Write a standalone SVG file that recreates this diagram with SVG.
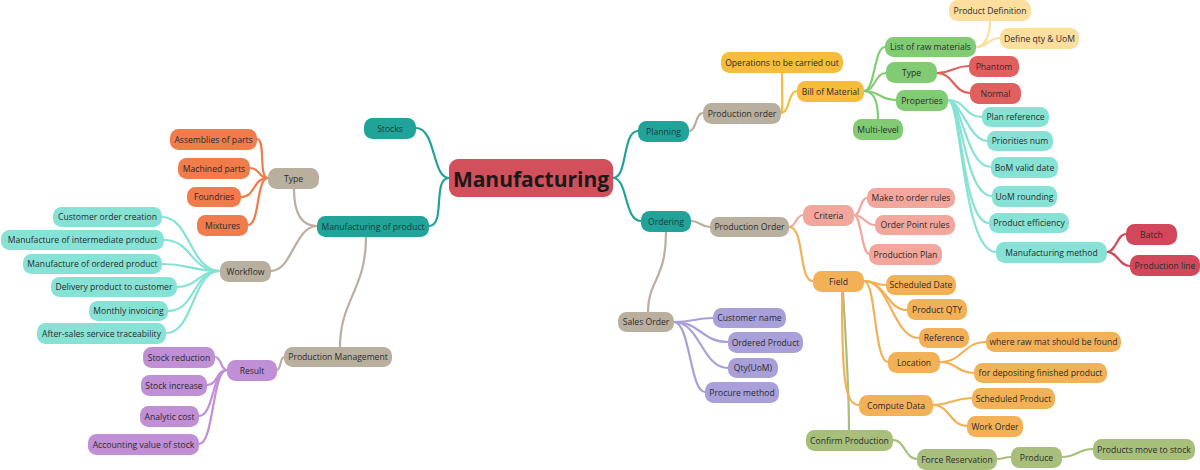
<svg xmlns="http://www.w3.org/2000/svg" width="1200" height="470" viewBox="0 0 1200 470">
<style>
text{font-family:"Open Sans","Noto Sans","Liberation Sans",sans-serif;font-size:8.6px;fill:#2b2b2b;text-anchor:middle;dominant-baseline:central}
rect{rx:8.5;ry:8.5}
.teal rect{fill:#22a39a}.teal text{fill:#163b38}
.beige rect{fill:#b9af9f}
.orange rect{fill:#f07b4b}
.cyan rect{fill:#86e2d5}
.purple rect{fill:#c08fd6}
.yellow rect{fill:#f6bd3d}
.green rect{fill:#81cc73}
.lyellow rect{fill:#fcdf9f}
.red rect{fill:#e0605f}
.dred rect{fill:#d2485a}
.salmon rect{fill:#f3a69b}
.forange rect{fill:#f3b157}
.lav rect{fill:#a9a0da}
.olive rect{fill:#a8bf7c}
#connectors path{fill:none;stroke-width:2.2;stroke-linecap:round}
.c-teal{stroke:#22a39a}.c-beige{stroke:#b9af9f}.c-orange{stroke:#f07b4b}.c-cyan{stroke:#86e2d5}
.c-purple{stroke:#c08fd6}.c-yellow{stroke:#f6bd3d}.c-green{stroke:#81cc73}.c-lyellow{stroke:#fcdf9f}
.c-red{stroke:#e0605f}.c-dred{stroke:#d2485a}.c-salmon{stroke:#f3a69b}.c-forange{stroke:#f3b157}
.c-lav{stroke:#a9a0da}.c-olive{stroke:#a8bf7c}
</style>
<rect x="0" y="0" width="1200" height="470" fill="#ffffff" rx="0" ry="0" style="rx:0;ry:0"/>
<g id="connectors">
<path class="c-teal" d="M449 178 C432 178 436 128 416 128"/>
<path class="c-teal" d="M449 178 C432 178 446 226 429 226"/>
<path class="c-teal" d="M613 178 C628 178 622 131 638 131"/>
<path class="c-teal" d="M613 178 C628 178 624 221 641 221"/>
<path class="c-beige" d="M317 226 C300 226 294 210 294 189"/>
<path class="c-beige" d="M317 226 C295 226 292 271 271 271"/>
<path class="c-beige" d="M366 237 C366 290 340 300 340 347"/>
<path class="c-orange" d="M268 178 C258 178 266 139 257 139"/>
<path class="c-orange" d="M268 178 C258 178 260 168 250 168"/>
<path class="c-orange" d="M268 178 C252 178 256 197 241 197"/>
<path class="c-orange" d="M268 178 C256 178 260 225 248 225"/>
<path class="c-cyan" d="M220 271 C190 271 190 217 162 217"/>
<path class="c-cyan" d="M220 271 C190 271 192 240 164 240"/>
<path class="c-cyan" d="M220 271 C190 271 190 264 162 264"/>
<path class="c-cyan" d="M220 271 C198 271 198 287 177 287"/>
<path class="c-cyan" d="M220 271 C192 271 196 311 168 311"/>
<path class="c-cyan" d="M220 271 C192 271 194 333 166 333"/>
<path class="c-beige" d="M284 357 C280 357 281 370 277 370"/>
<path class="c-purple" d="M227 370 C220 370 222 357 215 357"/>
<path class="c-purple" d="M227 370 C216 370 218 385 207 385"/>
<path class="c-purple" d="M227 370 C212 370 214 416 199 416"/>
<path class="c-purple" d="M227 370 C212 370 214 444 199 444"/>
<path class="c-beige" d="M689 131 C697 131 695 113 703 113"/>
<path class="c-yellow" d="M781 113 C783 113 782 100 782 73"/>
<path class="c-yellow" d="M781 113 C790 113 788 91 797 91"/>
<path class="c-green" d="M864 91 C875 91 874 47 885 47"/>
<path class="c-green" d="M864 91 C875 91 875 73 886 73"/>
<path class="c-green" d="M864 91 C880 91 880 100 896 100"/>
<path class="c-green" d="M864 91 C876 91 878 105 878 119"/>
<path class="c-lyellow" d="M976 47 C985 47 990 35 990 21"/>
<path class="c-lyellow" d="M976 47 C988 47 988 38 1000 38"/>
<path class="c-red" d="M937 73 C953 73 953 66 969 66"/>
<path class="c-red" d="M937 73 C953 73 954 93 970 93"/>
<path class="c-cyan" d="M948 100 C966 100 964 117 982 117"/>
<path class="c-cyan" d="M948 100 C960 100 970 141 987 141"/>
<path class="c-cyan" d="M948 100 C962 100 966 167 991 167"/>
<path class="c-cyan" d="M948 100 C962 100 964 196 992 196"/>
<path class="c-cyan" d="M948 100 C962 100 962 223 989 223"/>
<path class="c-cyan" d="M948 100 C962 100 962 252 996 252"/>
<path class="c-dred" d="M1107 252 C1116 252 1117 234 1126 234"/>
<path class="c-dred" d="M1107 252 C1118 252 1119 266 1130 266"/>
<path class="c-beige" d="M691 221 C700 221 701 227 710 227"/>
<path class="c-beige" d="M666 232 C666 280 648 280 648 312"/>
<path class="c-salmon" d="M789 227 C796 227 796 215 803 215"/>
<path class="c-olive" d="M843 292 C846 340 849 390 849 430"/>
<path class="c-forange" d="M789 227 C805 227 798 281 813 281"/>
<path class="c-salmon" d="M854 215 C861 215 860 198 867 198"/>
<path class="c-salmon" d="M854 215 C864 215 865 225 875 225"/>
<path class="c-salmon" d="M854 215 C861 215 862 254 869 254"/>
<path class="c-forange" d="M864 281 C875 281 875 285 886 285"/>
<path class="c-forange" d="M864 281 C885 281 887 310 907 310"/>
<path class="c-forange" d="M864 281 C890 281 893 338 919 338"/>
<path class="c-forange" d="M864 281 C876 281 874 362 888 362"/>
<path class="c-forange" d="M842 292 C842 380 845 405 859 405"/>
<path class="c-forange" d="M940 362 C963 362 963 342 986 342"/>
<path class="c-forange" d="M940 362 C957 362 957 373 974 373"/>
<path class="c-forange" d="M933 405 C952 405 952 398 972 398"/>
<path class="c-forange" d="M933 405 C950 405 950 426 967 426"/>
<path class="c-olive" d="M893 440 C905 440 905 459 917 459"/>
<path class="c-olive" d="M997 459 C1004 459 1004 457 1011 457"/>
<path class="c-olive" d="M1062 457 C1077 457 1078 449 1093 449"/>
<path class="c-lav" d="M674 322 C694 322 694 318 713 318"/>
<path class="c-lav" d="M674 322 C700 322 702 342 728 342"/>
<path class="c-lav" d="M674 322 C700 322 702 368 728 368"/>
<path class="c-lav" d="M674 322 C690 322 690 392 705 392"/>
</g>
<g id="manufacturing"><rect x="449" y="159" width="164" height="38" fill="#d1505c" style="rx:9;ry:9"/><text x="531" y="179" style="font-size:21px;font-weight:700;fill:#1a1a1a">Manufacturing</text></g>
<g id="stocks" class="teal"><rect x="364" y="118" width="52" height="21"/><text x="390" y="128.5">Stocks</text></g>
<g id="mfg-product" class="teal"><rect x="317" y="216" width="112" height="21"/><text x="373" y="226.5">Manufacturing of product</text></g>
<g id="type-left" class="beige"><rect x="268" y="168" width="51" height="21"/><text x="293.5" y="178.5">Type</text></g>
<g id="assemblies" class="orange"><rect x="170" y="129" width="87" height="21"/><text x="213.5" y="139.5">Assemblies of parts</text></g>
<g id="machined" class="orange"><rect x="178" y="158" width="72" height="21"/><text x="214" y="168.5">Machined parts</text></g>
<g id="foundries" class="orange"><rect x="187" y="187" width="54" height="20"/><text x="214" y="197">Foundries</text></g>
<g id="mixtures" class="orange"><rect x="197" y="215" width="51" height="21"/><text x="222.5" y="225.5">Mixtures</text></g>
<g id="workflow" class="beige"><rect x="220" y="261" width="51" height="21"/><text x="245.5" y="271.5">Workflow</text></g>
<g id="coc" class="cyan"><rect x="53" y="207" width="109" height="20"/><text x="107.5" y="217">Customer order creation</text></g>
<g id="mip" class="cyan"><rect x="1" y="230" width="163" height="20"/><text x="82.5" y="240">Manufacture of intermediate product</text></g>
<g id="mop" class="cyan"><rect x="23" y="254" width="139" height="20"/><text x="92.5" y="264">Manufacture of ordered product</text></g>
<g id="dpc" class="cyan"><rect x="51" y="277" width="126" height="20"/><text x="114" y="287">Delivery product to customer</text></g>
<g id="invoicing" class="cyan"><rect x="89" y="301" width="79" height="20"/><text x="128.5" y="311">Monthly invoicing</text></g>
<g id="aftersales" class="cyan"><rect x="37" y="323" width="129" height="21"/><text x="101.5" y="333.5">After-sales service traceability</text></g>
<g id="prod-mgmt" class="beige"><rect x="284" y="347" width="108" height="20"/><text x="338" y="357">Production Management</text></g>
<g id="result" class="purple"><rect x="227" y="360" width="50" height="21"/><text x="252" y="370.5">Result</text></g>
<g id="stock-red" class="purple"><rect x="143" y="347" width="72" height="21"/><text x="179" y="357.5">Stock reduction</text></g>
<g id="stock-inc" class="purple"><rect x="141" y="375" width="66" height="21"/><text x="174" y="385.5">Stock increase</text></g>
<g id="analytic" class="purple"><rect x="140" y="406" width="59" height="21"/><text x="169.5" y="416.5">Analytic cost</text></g>
<g id="accounting" class="purple"><rect x="88" y="434" width="111" height="21"/><text x="143.5" y="444.5">Accounting value of stock</text></g>
<g id="planning" class="teal"><rect x="638" y="121" width="51" height="21"/><text x="663.5" y="131.5">Planning</text></g>
<g id="prod-order-plan" class="beige"><rect x="703" y="103" width="78" height="21"/><text x="742" y="113.5">Production order</text></g>
<g id="operations" class="yellow"><rect x="721" y="52" width="122" height="21"/><text x="782" y="62.5">Operations to be carried out</text></g>
<g id="bom" class="yellow"><rect x="797" y="81" width="67" height="21"/><text x="830.5" y="91.5">Bill of Material</text></g>
<g id="raw-materials" class="green"><rect x="885" y="37" width="91" height="20"/><text x="930.5" y="47">List of raw materials</text></g>
<g id="type-right" class="green"><rect x="886" y="62" width="51" height="21"/><text x="911.5" y="72.5">Type</text></g>
<g id="properties" class="green"><rect x="896" y="90" width="52" height="21"/><text x="922" y="100.5">Properties</text></g>
<g id="multilevel" class="green"><rect x="853" y="119" width="50" height="21"/><text x="878" y="129.5">Multi-level</text></g>
<g id="prod-def" class="lyellow"><rect x="949" y="0" width="82" height="21"/><text x="990" y="10.5">Product Definition</text></g>
<g id="define-qty" class="lyellow"><rect x="1000" y="28" width="79" height="21"/><text x="1039.5" y="38.5">Define qty &amp; UoM</text></g>
<g id="phantom" class="red"><rect x="969" y="56" width="50" height="21"/><text x="994" y="66.5">Phantom</text></g>
<g id="normal" class="red"><rect x="970" y="83" width="51" height="21"/><text x="995.5" y="93.5">Normal</text></g>
<g id="plan-ref" class="cyan"><rect x="982" y="107" width="67" height="20"/><text x="1015.5" y="117">Plan reference</text></g>
<g id="priorities" class="cyan"><rect x="987" y="131" width="66" height="20"/><text x="1020" y="141">Priorities num</text></g>
<g id="bom-valid" class="cyan"><rect x="991" y="157" width="67" height="21"/><text x="1024.5" y="167.5">BoM valid date</text></g>
<g id="uom-round" class="cyan"><rect x="992" y="186" width="65" height="21"/><text x="1024.5" y="196.5">UoM rounding</text></g>
<g id="efficiency" class="cyan"><rect x="989" y="213" width="80" height="20"/><text x="1029" y="223">Product efficiency</text></g>
<g id="mfg-method" class="cyan"><rect x="996" y="242" width="111" height="21"/><text x="1051.5" y="252.5">Manufacturing method</text></g>
<g id="batch" class="dred"><rect x="1126" y="224" width="51" height="21"/><text x="1151.5" y="234.5">Batch</text></g>
<g id="prod-line" class="dred"><rect x="1130" y="255" width="70" height="21"/><text x="1165" y="265.5">Production line</text></g>
<g id="ordering" class="teal"><rect x="641" y="211" width="50" height="21"/><text x="666" y="221.5">Ordering</text></g>
<g id="prod-order" class="beige"><rect x="710" y="217" width="79" height="20"/><text x="749.5" y="227">Production Order</text></g>
<g id="criteria" class="salmon"><rect x="803" y="205" width="51" height="21"/><text x="828.5" y="215.5">Criteria</text></g>
<g id="mto" class="salmon"><rect x="867" y="188" width="88" height="20"/><text x="911" y="198">Make to order rules</text></g>
<g id="opr" class="salmon"><rect x="875" y="215" width="80" height="20"/><text x="915" y="225">Order Point rules</text></g>
<g id="prod-plan" class="salmon"><rect x="869" y="244" width="73" height="21"/><text x="905.5" y="254.5">Production Plan</text></g>
<g id="field" class="forange"><rect x="813" y="271" width="51" height="21"/><text x="838.5" y="281.5">Field</text></g>
<g id="sched-date" class="forange"><rect x="886" y="275" width="70" height="20"/><text x="921" y="285">Scheduled Date</text></g>
<g id="prod-qty" class="forange"><rect x="907" y="299" width="60" height="21"/><text x="937" y="309.5">Product QTY</text></g>
<g id="reference" class="forange"><rect x="919" y="328" width="50" height="20"/><text x="944" y="338">Reference</text></g>
<g id="location" class="forange"><rect x="888" y="352" width="52" height="21"/><text x="914" y="362.5">Location</text></g>
<g id="raw-mat" class="forange"><rect x="986" y="332" width="135" height="20"/><text x="1053.5" y="342">where raw mat should be found</text></g>
<g id="depositing" class="forange"><rect x="974" y="363" width="133" height="20"/><text x="1040.5" y="373">for depositing finished product</text></g>
<g id="compute" class="forange"><rect x="859" y="395" width="74" height="21"/><text x="896" y="405.5">Compute Data</text></g>
<g id="sched-prod" class="forange"><rect x="972" y="388" width="83" height="21"/><text x="1013.5" y="398.5">Scheduled Product</text></g>
<g id="work-order" class="forange"><rect x="967" y="416" width="56" height="21"/><text x="995" y="426.5">Work Order</text></g>
<g id="confirm" class="olive"><rect x="806" y="430" width="87" height="21"/><text x="849.5" y="440.5">Confirm Production</text></g>
<g id="force" class="olive"><rect x="917" y="449" width="80" height="21"/><text x="957" y="459.5">Force Reservation</text></g>
<g id="produce" class="olive"><rect x="1011" y="447" width="51" height="21"/><text x="1036.5" y="457.5">Produce</text></g>
<g id="move-stock" class="olive"><rect x="1093" y="439" width="102" height="21"/><text x="1144" y="449.5">Products move to stock</text></g>
<g id="sales-order" class="beige"><rect x="618" y="312" width="56" height="20"/><text x="646" y="322">Sales Order</text></g>
<g id="cust-name" class="lav"><rect x="713" y="308" width="73" height="20"/><text x="749.5" y="318">Customer name</text></g>
<g id="ordered-prod" class="lav"><rect x="728" y="332" width="75" height="21"/><text x="765.5" y="342.5">Ordered Product</text></g>
<g id="qty" class="lav"><rect x="728" y="358" width="50" height="20"/><text x="753" y="368">Qty(UoM)</text></g>
<g id="procure" class="lav"><rect x="705" y="382" width="74" height="21"/><text x="742" y="392.5">Procure method</text></g>
</svg>
